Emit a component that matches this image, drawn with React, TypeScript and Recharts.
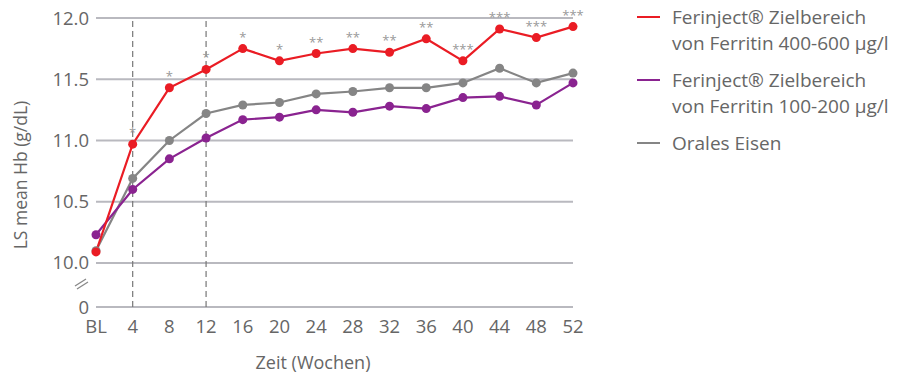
import React from 'react';
import { LineChart, Line, XAxis, YAxis, CartesianGrid, ReferenceLine, LabelList } from 'recharts';

const weeks = ['BL', '4', '8', '12', '16', '20', '24', '28', '32', '36', '40', '44', '48', '52'];
const ferinjectHigh = [10.09, 10.97, 11.43, 11.58, 11.75, 11.65, 11.71, 11.75, 11.72, 11.83, 11.65, 11.91, 11.84, 11.93];
const ferinjectLow = [10.23, 10.6, 10.85, 11.02, 11.17, 11.19, 11.25, 11.23, 11.28, 11.26, 11.35, 11.36, 11.29, 11.47];
const oralIron = [10.1, 10.69, 11.0, 11.22, 11.29, 11.31, 11.38, 11.4, 11.43, 11.43, 11.47, 11.59, 11.47, 11.55];
const significance = ['', '*', '*', '*', '*', '*', '**', '**', '**', '**', '***', '***', '***', '***'];

// axis is broken below 10.0: the bottom tick stands for 0
const BREAK_VALUE = 9.64;
const yTicks = [BREAK_VALUE, 10, 10.5, 11, 11.5, 12];

const RED = '#ea1c24';
const PURPLE = '#8a2390';
const GREY = '#858585';
const TEXT = '#666';
const FONT = '"Open Sans", sans-serif';

const data = weeks.map((w, i) => ({
  week: w,
  high: ferinjectHigh[i],
  low: ferinjectLow[i],
  oral: oralIron[i],
  sig: significance[i],
}));

const legendItems = [
  { color: RED, lines: ['Ferinject® Zielbereich', 'von Ferritin 400-600 µg/l'] },
  { color: PURPLE, lines: ['Ferinject® Zielbereich', 'von Ferritin 100-200 µg/l'] },
  { color: GREY, lines: ['Orales Eisen'] },
];

const fmtY = (v: number) => (v === BREAK_VALUE ? '0' : v.toFixed(1));

const SigLabel = (props: any) => {
  const { x, y, value } = props;
  if (!value) return null;
  return (
    <text x={x} y={y - 7} textAnchor="middle" fontSize={13} fill="#999" fontFamily={FONT}>
      {value}
    </text>
  );
};

export default function App() {
  return (
    <div style={{ position: 'absolute', left: 0, top: 0, width: 899, height: 373, fontFamily: FONT, color: TEXT }}>
      <LineChart width={600} height={373} data={data} margin={{ top: 18, right: 27, left: 0, bottom: 36 }}>
        <CartesianGrid vertical={false} stroke="#b9b9bf" strokeWidth={2} />
        <XAxis
          dataKey="week"
          axisLine={false}
          tickLine={false}
          tickSize={0}
          tickMargin={13}
          height={30}
          interval={0}
          tick={{ fontSize: 18.5, fill: TEXT, fontFamily: FONT }}
        />
        <YAxis
          width={96}
          domain={[BREAK_VALUE, 12]}
          ticks={yTicks}
          tickFormatter={fmtY}
          axisLine={false}
          tickLine={false}
          tickSize={0}
          tickMargin={7}
          tick={{ fontSize: 18.5, fill: TEXT, fontFamily: FONT }}
        />
        <ReferenceLine x="4" stroke="#777" strokeDasharray="6 4" strokeWidth={1.2} />
        <ReferenceLine x="12" stroke="#777" strokeDasharray="6 4" strokeWidth={1.2} />
        <Line dataKey="oral" stroke={GREY} strokeWidth={2.2} dot={{ r: 4.5, fill: GREY, stroke: 'none' }} isAnimationActive={false} />
        <Line dataKey="low" stroke={PURPLE} strokeWidth={2.2} dot={{ r: 4.5, fill: PURPLE, stroke: 'none' }} isAnimationActive={false} />
        <Line dataKey="high" stroke={RED} strokeWidth={2.2} dot={{ r: 4.5, fill: RED, stroke: 'none' }} isAnimationActive={false}>
          <LabelList dataKey="sig" content={SigLabel} />
        </Line>
      </LineChart>

      {/* axis break mark */}
      <svg style={{ position: 'absolute', left: 72, top: 274 }} width={20} height={16}>
        <line x1={3} y1={12} x2={14} y2={5} stroke="#888" strokeWidth={1.3} />
        <line x1={5} y1={15} x2={16} y2={8} stroke="#888" strokeWidth={1.3} />
      </svg>

      <div
        style={{
          position: 'absolute',
          left: 20,
          top: 175,
          transform: 'translate(-50%, -50%) rotate(-90deg)',
          whiteSpace: 'nowrap',
          fontSize: 17.5,
        }}
      >
        LS mean Hb (g/dL)
      </div>
      <div style={{ position: 'absolute', left: 313, top: 362, transform: 'translate(-50%, -50%)', whiteSpace: 'nowrap', fontSize: 18 }}>
        Zeit (Wochen)
      </div>

      <div style={{ position: 'absolute', left: 637, top: 4 }}>
        {legendItems.map((item) => (
          <div key={item.lines.join()} style={{ display: 'flex', alignItems: 'flex-start', marginBottom: item.lines.length > 1 ? 11 : 0 }}>
            <div style={{ width: 23, height: 2, background: item.color, marginTop: 12, marginRight: 12, flexShrink: 0 }} />
            <div style={{ fontSize: 19, lineHeight: '26px', whiteSpace: 'nowrap' }}>
              {item.lines.map((l) => (
                <div key={l}>{l}</div>
              ))}
            </div>
          </div>
        ))}
      </div>
    </div>
  );
}
